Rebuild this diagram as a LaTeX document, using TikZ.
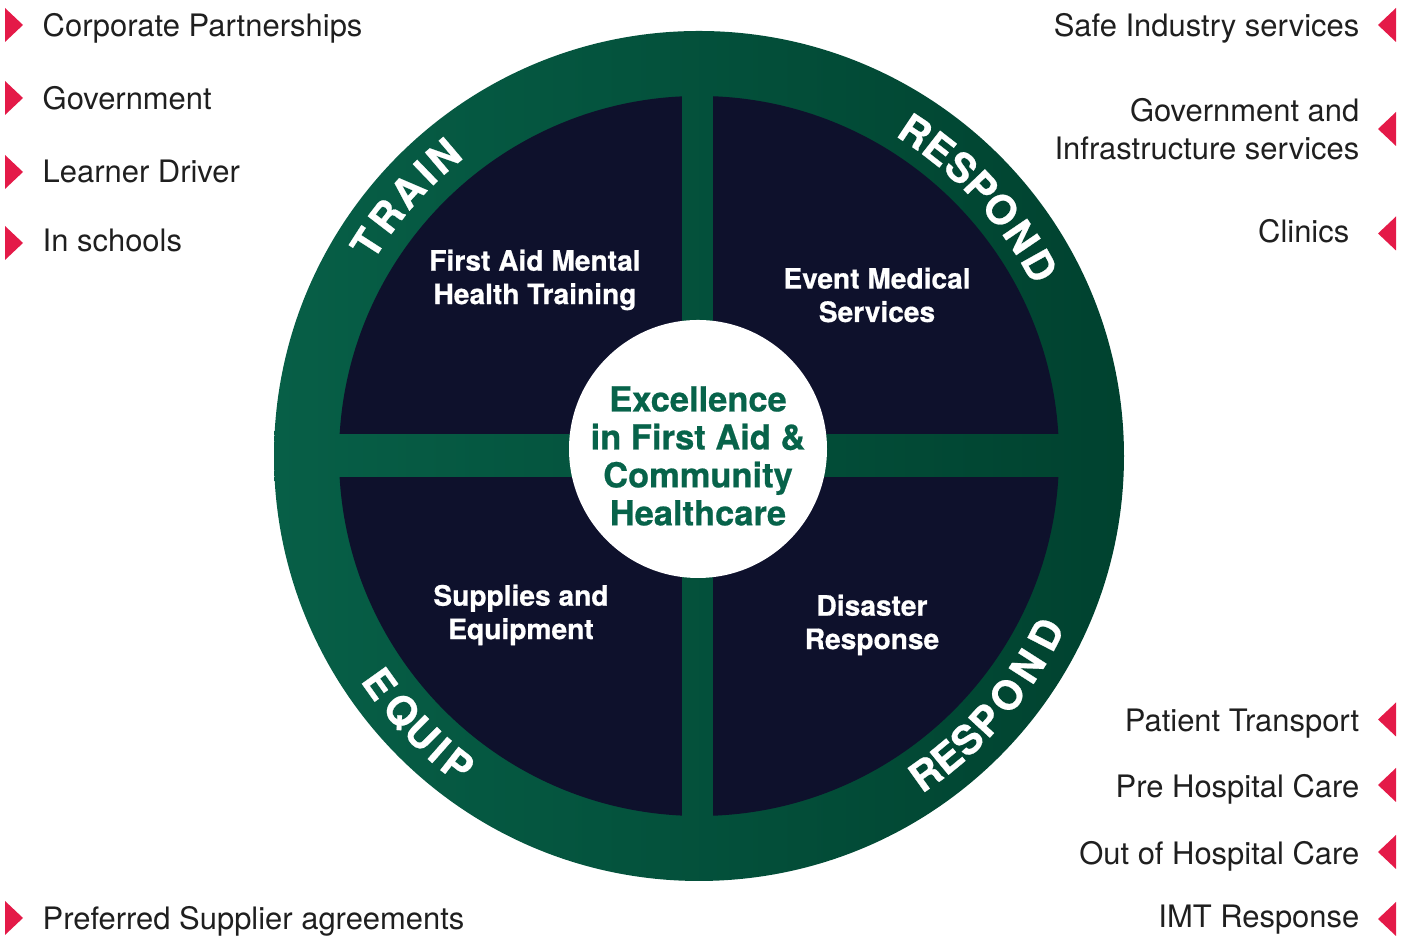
\documentclass[tikz,border=0pt]{standalone}
\usepackage{fontspec}
\setmainfont{TeX Gyre Heros}[BoldFeatures={FakeBold=0.6}]

\definecolor{ringgreen}{RGB}{7,95,71}
\definecolor{ringdark}{RGB}{0,66,47}
\definecolor{quadnavy}{RGB}{14,17,44}
\definecolor{hubgreen}{RGB}{7,99,74}
\definecolor{markred}{RGB}{228,26,72}

\tikzset{
    listitem/.style={inner sep=0pt, text=black!88, font=\fontsize{8.8}{10.8}\selectfont},
    quadlabel/.style={inner sep=0pt, align=center, text=white, font=\bfseries\fontsize{8}{9.5}\selectfont},
    hublabel/.style={inner sep=0pt, align=center, text=hubgreen, font=\bfseries\fontsize{9.8}{10.8}\selectfont},
    ringletter/.style={inner sep=0pt, text=white, font=\bfseries\fontsize{11.5}{11.5}\selectfont},
    marker/.style={fill=markred}
}

\begin{document}
\begin{tikzpicture}[x=0.01cm, y=0.01cm]
    \useasboundingbox (0,0) rectangle (1411,937);

    % ring
    \coordinate (c) at (699,481);
    \shade[left color=ringgreen, middle color=ringgreen, right color=ringdark] (c) circle (425);

    % quadrants
    \begin{scope}
        \clip (c) circle (360);
        \fill[quadnavy] (682,503) rectangle (299,900);
        \fill[quadnavy] (713,503) rectangle (1100,900);
        \fill[quadnavy] (682,460) rectangle (299,60);
        \fill[quadnavy] (713,460) rectangle (1100,60);
    \end{scope}

    % hub
    \fill[white] (698,488) circle (129);
    \node[hublabel] (hub) at (698,481) {Excellence\\in First Aid \&\\Community\\Healthcare};

    % quadrant labels
    \node[quadlabel] (qtrain) at (535,657) {First Aid Mental\\Health Training};
    \node[quadlabel] (qevent) at (877,642) {Event Medical\\Services};
    \node[quadlabel] (qsupply) at (521,322) {Supplies and\\Equipment};
    \node[quadlabel] (qdisaster) at (872,312) {Disaster\\Response};

    % ring words, top
    \foreach \a/\l [count=\i] in {147.3/T,142.5/R,137.7/A,134.0/I,130.4/N}
        \node[ringletter, rotate=\a-90] (train-\i) at ([shift={(\a:394)}]c) {\l};
    \foreach \a/\l [count=\i] in {56.3/R,52.0/E,47.7/S,43.6/P,39.2/O,34.2/N,29.2/D}
        \node[ringletter, rotate=\a-90] (respond-\i) at ([shift={(\a:390)}]c) {\l};

    % ring words, bottom
    \foreach \a/\l [count=\i] in {215.5/E,220.6/Q,225.1/U,228.6/I,232.0/P}
        \node[ringletter, rotate=\a+90] (equip-\i) at ([shift={(\a:392)}]c) {\l};
    \foreach \a/\l [count=\i] in {-54.5/R,-50.5/E,-46.6/S,-42.6/P,-37.8/O,-32.6/N,-27.2/D}
        \node[ringletter, rotate=\a+90] (disaster-\i) at ([shift={(\a:390)}]c) {\l};

    % left list
    \foreach \yb/\ym/\txt [count=\i] in {900/912/Corporate Partnerships, 827/839/Government, 754/765/Learner Driver, 685/694/In schools, 7/19/Preferred Supplier agreements} {
        \fill[marker] (5,\ym+17) -- (23,\ym) -- (5,\ym-17) -- cycle;
        \node[listitem, anchor=base west] (left-\i) at (42,\yb) {\txt};
    }

    % right list
    \foreach \xr/\yb/\ym/\txt [count=\i] in {1360/900/912/Safe Industry services, 1350/694/703.5/Clinics, 1360/205/217.5/Patient Transport, 1360/139/152/Pre Hospital Care, 1360/72/85/Out of Hospital Care, 1360/9/18/IMT Response} {
        \fill[marker] (1396,\ym+17) -- (1378,\ym) -- (1396,\ym-17) -- cycle;
        \node[listitem, anchor=base east] (right-\i) at (\xr,\yb) {\txt};
    }
    \fill[marker] (1396,825) -- (1378,808) -- (1396,791) -- cycle;
    \node[listitem, anchor=east, align=right] (right-gov) at (1360,808) {Government and\\Infrastructure services};

\end{tikzpicture}
\end{document}
